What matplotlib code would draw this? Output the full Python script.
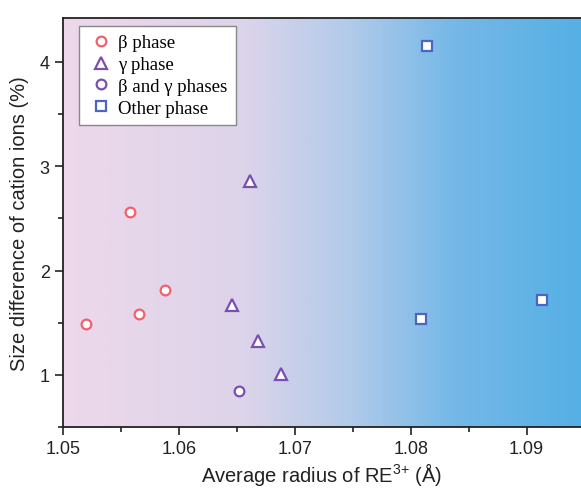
import numpy as np
import matplotlib.pyplot as plt
from matplotlib.colors import LinearSegmentedColormap

# data
beta_x = [1.0520, 1.0558, 1.0566, 1.0588]
beta_y = [1.49, 2.56, 1.58, 1.81]
gamma_x = [1.0661, 1.0646, 1.0668, 1.0688]
gamma_y = [2.86, 1.67, 1.32, 1.01]
both_x = [1.0652]
both_y = [0.85]
other_x = [1.0814, 1.0809, 1.0913]
other_y = [4.15, 1.54, 1.72]

plt.rcParams['font.family'] = ['Liberation Sans', 'DejaVu Sans']
plt.rcParams['mathtext.fontset'] = 'custom'
plt.rcParams['mathtext.rm'] = 'Liberation Sans'

fig = plt.figure(figsize=(5.81, 4.89), dpi=100)
ax = fig.add_axes([0.1084, 0.1247, 0.8916, 0.8364])

xlim = (1.05, 1.0947)
ylim = (0.5, 4.42)

# background gradient
cmap = LinearSegmentedColormap.from_list('bg', [
    (0.0, '#eed8ea'), (0.35, '#dcd4ea'), (0.55, '#b2cbea'),
    (0.75, '#76b8e7'), (1.0, '#55b0e5')])
grad = np.linspace(0, 1, 256).reshape(1, -1)
ax.imshow(grad, cmap=cmap, aspect='auto', extent=[xlim[0], xlim[1], ylim[0], ylim[1]],
          zorder=0)

ax.plot(beta_x, beta_y, 'o', ms=7, mfc='white', mec='#f0616b', mew=1.6,
        ls='none', label='β phase', zorder=3)
ax.plot(gamma_x, gamma_y, '^', ms=8, mfc='white', mec='#7a4fb0', mew=1.6,
        ls='none', label='γ phase', zorder=3)
ax.plot(both_x, both_y, 'o', ms=7, mfc='white', mec='#7a4fb0', mew=1.6,
        ls='none', label='β and γ phases', zorder=3)
ax.plot(other_x, other_y, 's', ms=6.5, mfc='white', mec='#4a66c2', mew=1.6,
        ls='none', label='Other phase', zorder=3)

ax.set_xlim(*xlim)
ax.set_ylim(*ylim)
ax.set_xticks([1.05, 1.06, 1.07, 1.08, 1.09])
ax.set_xticks([1.055, 1.065, 1.075, 1.085], minor=True)
ax.set_yticks([1, 2, 3, 4])
ax.set_yticks([0.5, 1.5, 2.5, 3.5], minor=True)
ax.set_xticklabels(['1.05', '1.06', '1.07', '1.08', '1.09'])
ax.tick_params(which='major', direction='out', length=6, width=1.2, labelsize=13,
               color='#222222', labelcolor='#222222')
ax.tick_params(which='minor', direction='out', length=3.5, width=1.2, color='#222222')
ax.spines['right'].set_visible(False)
for s in ['left', 'bottom', 'top']:
    ax.spines[s].set_linewidth(1.3)
    ax.spines[s].set_color('#222222')

ax.set_xlabel(r'Average radius of RE$^{\mathrm{3{+}}}$ (Å)', fontsize=14.5, labelpad=2,
              color='#222222')
ax.set_ylabel('Size difference of cation ions (%)', fontsize=14.5, labelpad=8,
              color='#222222')

leg = ax.legend(loc='upper left', bbox_to_anchor=(0.02, 0.995), frameon=True,
                fancybox=False, edgecolor='#888888', framealpha=1,
                prop={'family': 'Liberation Serif', 'size': 13.5},
                handletextpad=0.25, labelspacing=0.25, borderpad=0.45,
                handlelength=1.4, borderaxespad=0.3)
leg.get_frame().set_linewidth(1.0)

fig.savefig('out.png', dpi=100)
